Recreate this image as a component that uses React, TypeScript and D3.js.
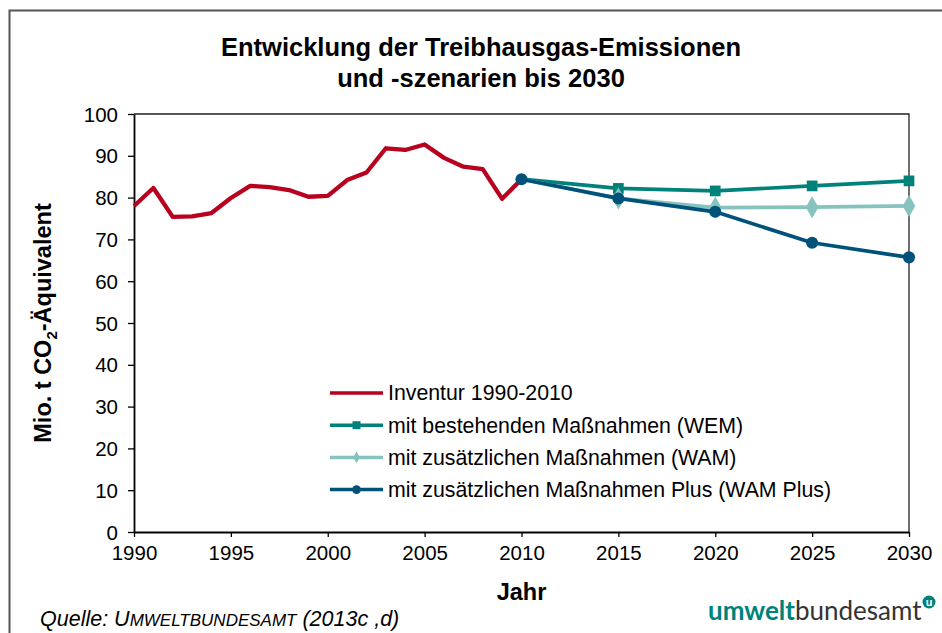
import React, { useEffect, useRef } from "react";
import * as d3 from "d3";

// Inventur 1990-2010 (Mio. t CO2-Äquivalent)
const inventurYears = d3.range(1990, 2011);
const inventurValues = [
	78.0, 82.3, 75.4, 75.5, 76.3, 79.9, 82.8, 82.5, 81.8, 80.2, 80.4, 84.2,
	86.0, 91.8, 91.4, 92.7, 89.5, 87.4, 86.8, 79.7, 84.4,
];

const scenarioYears = [2010, 2015, 2020, 2025, 2030];
const wemValues = [84.4, 82.2, 81.6, 82.8, 84.0];
const wamValues = [84.4, 79.8, 77.6, 77.7, 78.0];
const wamPlusValues = [84.4, 79.8, 76.6, 69.2, 65.7];

const xTicks = [1990, 1995, 2000, 2005, 2010, 2015, 2020, 2025, 2030];
const yTicks = [0, 10, 20, 30, 40, 50, 60, 70, 80, 90, 100];

const legendLabels = [
	"Inventur 1990-2010",
	"mit bestehenden Maßnahmen (WEM)",
	"mit zusätzlichen Maßnahmen (WAM)",
	"mit zusätzlichen Maßnahmen Plus (WAM Plus)",
];

const RED = "#b8001f";
const TEAL = "#00827a";
const LIGHT = "#86c3bf";
const DARK = "#00527a";
const FONT = "'Liberation Sans', Arial, sans-serif";

const App: React.FC = () => {
	const ref = useRef<SVGSVGElement | null>(null);

	useEffect(() => {
		if (!ref.current) return;
		const svg = d3.select(ref.current);
		svg.selectAll("*").remove();

		const margin = { left: 134, right: 33, top: 114, bottom: 101 };
		const width = 942;
		const height = 633;

		// outer frame
		svg.append("path")
			.attr("d", `M9.5,${height} V10.5 H${width}`)
			.attr("fill", "none")
			.attr("stroke", "#555")
			.attr("stroke-width", 2);

		const x = d3
			.scaleLinear()
			.domain([1990, 2030])
			.range([margin.left, width - margin.right]);
		const y = d3
			.scaleLinear()
			.domain([0, 100])
			.range([height - margin.bottom, margin.top]);

		// plot box top/right
		svg.append("path")
			.attr("d", `M${x(1990)},${y(100)} H${x(2030)} V${y(0)}`)
			.attr("fill", "none")
			.attr("stroke", "#222")
			.attr("stroke-width", 1.3);

		const yAxis = svg
			.append("g")
			.attr("transform", `translate(${x(1990)},0)`)
			.call(d3.axisLeft(y).tickValues(yTicks).tickSize(6).tickSizeOuter(0));
		yAxis.selectAll("text")
			.attr("font-family", FONT)
			.attr("font-size", 20.5)
			.attr("fill", "#000")
			.attr("x", -16)
			.attr("dy", "0.35em");

		const xAxis = svg
			.append("g")
			.attr("transform", `translate(0,${y(0)})`)
			.call(
				d3
					.axisBottom(x)
					.tickValues(xTicks)
					.tickFormat(d3.format("d"))
					.tickSize(5)
					.tickSizeOuter(0)
			);
		xAxis.selectAll("text")
			.attr("font-family", FONT)
			.attr("font-size", 20.5)
			.attr("fill", "#000")
			.attr("y", 13)
			.attr("dy", "0.71em");

		[yAxis, xAxis].forEach((a) => {
			a.selectAll("line").attr("stroke", "#000").attr("stroke-width", 1.3);
			a.select(".domain").attr("stroke", "#000").attr("stroke-width", 1.8);
		});

		const line = d3
			.line<[number, number]>()
			.x((d) => x(d[0]))
			.y((d) => y(d[1]));

		svg.append("path")
			.datum(inventurYears.map((yr, i) => [yr, inventurValues[i]] as [number, number]))
			.attr("d", line)
			.attr("fill", "none")
			.attr("stroke", RED)
			.attr("stroke-width", 4.3)
			.attr("stroke-linejoin", "round");

		const series = [
			{ values: wemValues, color: TEAL, marker: "square", from: 1 },
			{ values: wamValues, color: LIGHT, marker: "diamond", from: 1 },
			{ values: wamPlusValues, color: DARK, marker: "circle", from: 0 },
		];

		const symbolFor = (m: string, size: number) =>
			d3
				.symbol()
				.type(
					m === "square"
						? d3.symbolSquare
						: m === "diamond"
						? d3.symbolDiamond
						: d3.symbolCircle
				)
				.size(size)();

		series.forEach((s) => {
			svg.append("path")
				.datum(scenarioYears.map((yr, i) => [yr, s.values[i]] as [number, number]))
				.attr("d", line)
				.attr("fill", "none")
				.attr("stroke", s.color)
				.attr("stroke-width", 3.7)
				.attr("stroke-linejoin", "round");
			svg.selectAll(null)
				.data(scenarioYears.slice(s.from))
				.enter()
				.append("path")
				.attr("d", symbolFor(s.marker, s.marker === "square" ? 115 : s.marker === "diamond" ? 140 : 115))
				.attr("transform", (yr, i) => `translate(${x(yr)},${y(s.values[i + s.from])})`)
				.attr("fill", s.color);
		});

		// legend
		const legend = svg.append("g").attr("transform", "translate(330,393)");
		const legendColors = [RED, TEAL, LIGHT, DARK];
		const legendMarkers = ["", "square", "diamond", "circle"];
		legendLabels.forEach((label, i) => {
			const g = legend.append("g").attr("transform", `translate(0,${i * 32.2})`);
			g.append("line")
				.attr("x1", 0)
				.attr("x2", 53)
				.attr("stroke", legendColors[i])
				.attr("stroke-width", 3.5);
			if (legendMarkers[i]) {
				g.append("path")
					.attr(
						"d",
						symbolFor(legendMarkers[i], legendMarkers[i] === "square" ? 64 : legendMarkers[i] === "diamond" ? 40 : 60)
					)
					.attr("transform", "translate(26.5,0)")
					.attr("fill", legendColors[i]);
			}
			g.append("text")
				.attr("x", 58)
				.attr("dy", "0.35em")
				.attr("font-family", FONT)
				.attr("font-size", 21.3)
				.attr("fill", "#000")
				.text(label);
		});

		// title
		const title = svg
			.append("text")
			.attr("text-anchor", "middle")
			.attr("font-family", FONT)
			.attr("font-weight", "bold")
			.attr("font-size", 25.5)
			.attr("fill", "#000");
		title.append("tspan").attr("x", 481).attr("y", 56).text("Entwicklung der Treibhausgas-Emissionen");
		title.append("tspan").attr("x", 481).attr("y", 87).text("und -szenarien bis 2030");

		// y axis label
		const yl = svg
			.append("text")
			.attr("transform", `translate(51,${(y(0) + y(100)) / 2}) rotate(-90)`)
			.attr("text-anchor", "middle")
			.attr("font-family", FONT)
			.attr("font-weight", "bold")
			.attr("font-size", 23.5)
			.attr("fill", "#000");
		yl.append("tspan").text("Mio. t CO");
		yl.append("tspan").attr("font-size", 15).attr("dy", 6).text("2");
		yl.append("tspan").attr("dy", -6).text("-Äquivalent");

		svg.append("text")
			.attr("x", (x(1990) + x(2030)) / 2)
			.attr("y", 600)
			.attr("text-anchor", "middle")
			.attr("font-family", FONT)
			.attr("font-weight", "bold")
			.attr("font-size", 23.5)
			.attr("fill", "#000")
			.text("Jahr");

		// source
		const src = svg
			.append("text")
			.attr("x", 40)
			.attr("y", 626)
			.attr("font-family", FONT)
			.attr("font-style", "italic")
			.attr("font-size", 21.5)
			.attr("fill", "#000");
		src.append("tspan").text("Quelle: U");
		src.append("tspan").attr("font-size", 17).text("MWELTBUNDESAMT");
		src.append("tspan").text(" (2013c ,d)");

		// logo
		const logo = svg
			.append("text")
			.attr("x", 708)
			.attr("y", 620)
			.attr("font-family", "Lato, 'Open Sans', sans-serif")
			.attr("font-size", 26);
		logo.append("tspan").attr("font-weight", "bold").attr("fill", TEAL).text("umwelt");
		logo.append("tspan").attr("fill", "#333").text("bundesamt");
		svg.append("circle")
			.attr("cx", 929)
			.attr("cy", 602)
			.attr("r", 6.5)
			.attr("fill", TEAL);
		svg.append("text")
			.attr("x", 929)
			.attr("y", 606)
			.attr("text-anchor", "middle")
			.attr("font-family", FONT)
			.attr("font-weight", "bold")
			.attr("font-size", 11)
			.attr("fill", "#fff")
			.text("u");
	}, []);

	return (
		<svg
			ref={ref}
			width={942}
			height={633}
			style={{ position: "absolute", left: 0, top: 0, background: "#fff" }}
		/>
	);
};

export default App;
